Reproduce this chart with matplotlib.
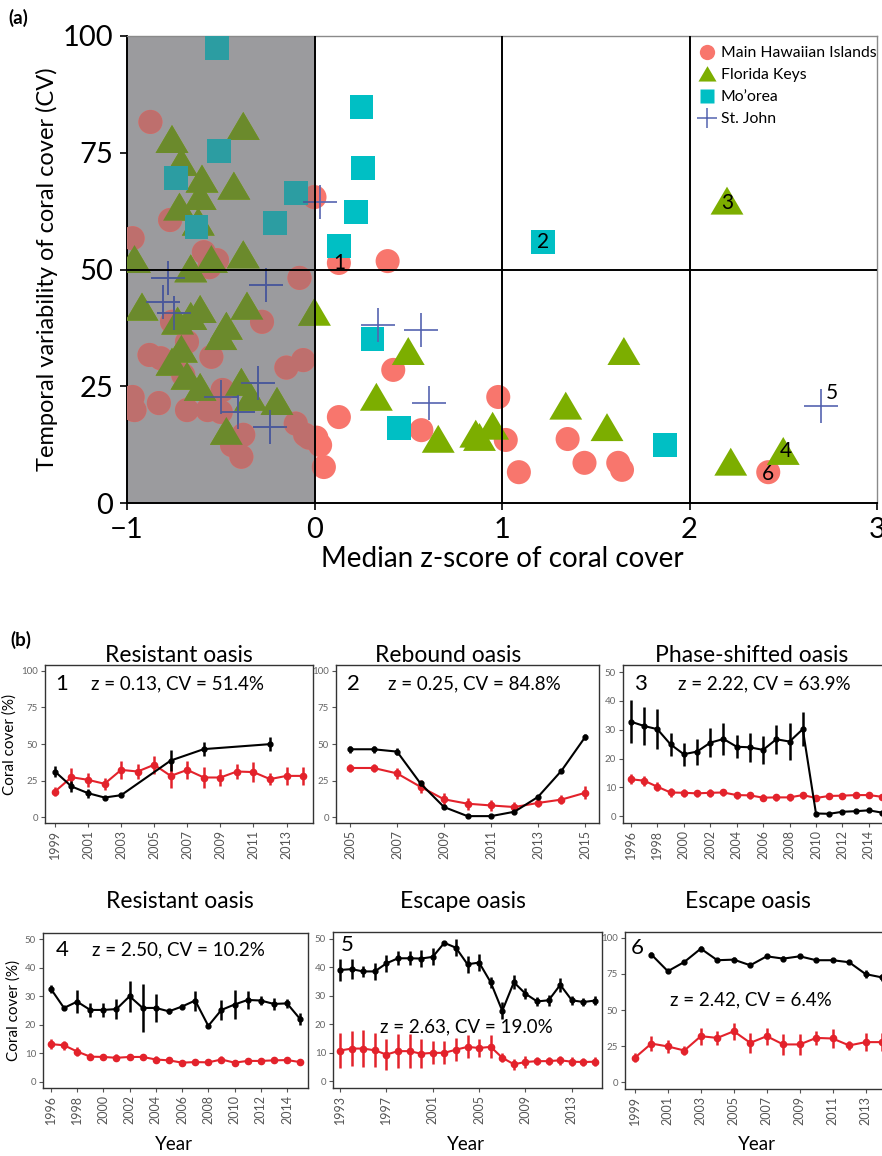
import matplotlib
matplotlib.use("Agg")
import matplotlib.pyplot as plt
from matplotlib.lines import Line2D
from matplotlib.patches import Rectangle
import numpy as np

plt.rcParams['font.family'] = ['Lato', 'DejaVu Sans']

# ---------------- Panel (a) data ----------------
hawaii_x = [-0.875, -0.77, -0.97, -0.59, -0.52, 0.0, -0.56, -0.08, -0.28, -0.76, -0.68, -0.88, -0.82,
            -0.55, -0.15, -0.06, -0.70, -0.49, -0.97, -0.96, -0.83, -0.68, -0.57, -0.50, -0.38, -0.44,
            -0.39, -0.10, -0.05, 0.01, -0.03, 0.03, 0.05, 0.13, 0.39, 0.42, 0.98, 0.13, 0.57, 1.02,
            1.09, 1.35, 1.44, 1.62, 1.64, 2.42]
hawaii_y = [81.6, 60.6, 56.7, 53.7, 52.0, 65.5, 50.5, 48.2, 38.8, 38.8, 34.5, 31.7, 31.0,
            31.3, 29.0, 30.6, 27.4, 24.2, 22.7, 19.9, 21.4, 19.9, 19.9, 19.5, 14.6, 12.4,
            9.9, 17.0, 14.6, 14.0, 14.0, 12.4, 7.7, 51.4, 51.8, 28.5, 22.7, 18.4, 15.6, 13.5,
            6.6, 13.7, 8.6, 8.6, 7.1, 6.6]

florida_x = [-0.38, -0.76, -0.71, -0.60, -0.43, -0.61, -0.72, -0.62, -0.96, -0.55, -0.38, -0.66,
             -0.92, -0.73, -0.61, -0.66, -0.36, 0.0, -0.47, -0.50, -0.71, -0.76, -0.68, -0.61,
             -0.39, -0.34, -0.20, -0.47, 0.50, 0.33, 0.66, 0.86, 0.88, 0.95, 1.34, 1.65, 1.56,
             2.22, 2.50, 2.20]
florida_y = [80.5, 77.7, 72.8, 69.2, 67.7, 65.5, 63.2, 60.0, 52.0, 52.0, 53.0, 50.0,
             41.8, 38.8, 41.3, 39.8, 42.0, 40.7, 37.7, 35.5, 32.8, 30.0, 27.0, 24.6,
             25.7, 22.5, 21.6, 15.2, 32.3, 22.5, 13.5, 14.6, 13.9, 16.3, 20.6, 32.3, 16.0,
             8.6, 10.9, 64.5]

moorea_x = [-0.52, -0.51, -0.74, -0.10, -0.63, -0.21, 0.25, 0.26, 0.22, 0.13, 1.22, 0.31, 0.45, 1.87]
moorea_y = [97.5, 75.4, 69.6, 66.4, 59.1, 60.0, 84.8, 71.7, 62.3, 55.0, 55.9, 35.1, 16.0, 12.4]

stjohn_x = [0.03, -0.78, -0.26, -0.81, -0.75, -0.30, -0.50, -0.41, -0.24, 0.34, 0.57, 0.61, 2.70]
stjohn_y = [64.5, 48.2, 46.7, 43.0, 40.7, 25.7, 22.7, 19.5, 16.3, 38.1, 37.0, 21.4, 20.8]

group_names = ["Main Hawaiian Islands", "Florida Keys", "Mo\u2019orea", "St. John"]

# labelled oases: (label, x, y) taken from the points above
oasis_labels = ["1", "2", "3", "4", "5", "6"]
oasis_x = [0.13, 1.22, 2.20, 2.50, 2.70, 2.42]
oasis_y = [51.4, 55.9, 64.5, 10.9, 20.8, 6.6]

# ---------------- Panel (b) data ----------------
p1_black_years = [1999, 2000, 2001, 2002, 2003, 2006, 2008, 2012]
p1_black = [31.2, 21.0, 16.4, 13.4, 15.0, 38.7, 46.5, 49.9]
p1_black_err = [4, 4, 3, 1.2, 1.5, 7, 5, 5]
p1_red_years = list(range(1999, 2015))
p1_red = [17.5, 27.3, 25.5, 22.8, 32.3, 31.2, 35.8, 28.2, 32.3, 27.1, 27.1, 31.2, 30.8, 26.0, 28.2, 28.2]
p1_red_err = [3, 6, 5, 4, 6, 5, 6, 8, 6, 7, 6, 5, 7, 4, 6, 6]

p2_years = list(range(2005, 2016))
p2_black = [46.4, 46.4, 44.8, 23.0, 6.9, 0.7, 0.7, 3.7, 13.8, 31.7, 54.5]
p2_black_err = [2.5, 2.5, 2.5, 2, 1.5, 0.5, 0.5, 1, 1.5, 1.5, 2]
p2_red = [33.6, 33.6, 29.9, 20.7, 12.2, 9.2, 8.0, 6.9, 9.7, 12.0, 16.6]
p2_red_err = [3, 3, 3.5, 4.5, 4, 4, 4, 3.5, 3, 3, 4.5]

p3_years = list(range(1996, 2016))
p3_black = [32.8, 31.3, 30.2, 24.9, 21.5, 22.4, 25.5, 26.8, 24.1, 23.9, 23.0, 26.7, 25.9, 30.2,
            0.9, 0.8, 1.5, 1.7, 2.0, 1.2]
p3_black_err = [7.5, 6.5, 7, 4, 4, 4.5, 5, 5.5, 4, 5, 5, 5, 6.5, 6, 0.3, 0.3, 0.3, 0.3, 0.3, 0.3]
p3_red = [12.8, 12.3, 10.2, 8.2, 8.1, 7.9, 8.1, 8.2, 7.3, 7.2, 6.4, 6.5, 6.5, 7.3, 6.3, 7.0, 7.1,
          7.3, 7.3, 6.7]
p3_red_err = [1.8, 1.8, 1.6, 1.5, 1.4, 1.3, 1.3, 1.3, 1.2, 1.2, 1.2, 1.2, 1.2, 1.2, 1.0, 1.0, 1.0,
              1.0, 1.0, 1.0]

p4_years = list(range(1996, 2016))
p4_black = [32.6, 25.9, 28.1, 25.2, 25.2, 25.5, 30.0, 25.9, 25.9, 24.7, 26.4, 28.5, 19.6, 25.2,
            27.1, 28.7, 28.5, 27.3, 27.5, 22.0]
p4_black_err = [1.5, 0.5, 4, 2.5, 2.5, 3.5, 5.5, 8.5, 5, 0.8, 0.8, 3.5, 0.8, 3.5, 5, 3, 1.5, 2,
                1.5, 2]
p4_red = [13.2, 12.8, 10.6, 8.8, 8.7, 8.4, 8.7, 8.7, 7.8, 7.5, 6.7, 6.9, 6.8, 7.8, 6.7, 7.3, 7.3,
          7.5, 7.6, 6.9]
p4_red_err = [1.8, 1.6, 1.5, 1.3, 1.2, 1.2, 1.2, 1.2, 1.1, 1.1, 1.0, 1.0, 1.0, 1.1, 1.0, 1.0, 1.0,
              1.0, 1.0, 1.0]

p5_years = list(range(1993, 2016))
p5_black = [39.0, 39.3, 38.5, 38.5, 41.3, 43.1, 43.1, 43.0, 43.6, 48.5, 46.8, 41.0, 41.6, 34.7,
            24.7, 34.7, 30.7, 28.0, 28.4, 33.8, 28.4, 27.8, 28.3]
p5_black_err = [4, 3.5, 2, 3, 3, 2.5, 2.5, 3, 3, 0.8, 3, 3, 3, 2, 3, 2.5, 2, 1.5, 2, 2.5, 1.5,
                1.5, 1.5]
p5_red = [10.8, 11.5, 11.5, 10.9, 9.4, 10.6, 10.6, 9.7, 10.0, 10.0, 11.1, 12.1, 11.7, 12.1, 8.3,
          6.0, 6.8, 7.1, 7.1, 7.4, 6.9, 6.8, 6.9]
p5_red_err = [6, 6, 6.5, 6, 5.5, 6, 6, 5, 4, 4, 4, 4, 3, 4, 1.5, 2, 2, 1.5, 1.5, 1.5, 1.5, 1.5, 1.5]

p6_black_years = list(range(2000, 2015))
p6_black = [88.4, 76.9, 83.3, 92.5, 84.5, 84.9, 81.0, 87.2, 85.6, 87.2, 84.5, 84.5, 83.1, 74.9, 72.6]
p6_black_err = [1.5, 1.5, 1.5, 1.5, 1.5, 1.5, 1.5, 1.5, 1.5, 1.5, 1.5, 1.5, 1.5, 2.5, 2.5]
p6_red_years = list(range(1999, 2015))
p6_red = [17.1, 26.9, 24.9, 22.1, 32.0, 30.8, 35.4, 27.4, 32.0, 26.3, 26.3, 30.8, 30.4, 25.6, 27.9, 27.9]
p6_red_err = [3, 5, 4.5, 3, 6, 5, 6, 7, 6, 7, 7, 5, 6.5, 3, 6, 6]

panel_titles = ["Resistant oasis", "Rebound oasis", "Phase-shifted oasis",
                "Resistant oasis", "Escape oasis", "Escape oasis"]
panel_stats = ["z = 0.13, CV = 51.4%", "z = 0.25, CV = 84.8%", "z = 2.22, CV = 63.9%",
               "z = 2.50, CV = 10.2%", "z = 2.63, CV = 19.0%", "z = 2.42, CV = 6.4%"]

# ---------------- Figure ----------------
W, H = 882, 1156
fig = plt.figure(figsize=(W / 100, H / 100), dpi=100)


def rect(l, t, r, b):
    return [l / W, 1 - b / H, (r - l) / W, (b - t) / H]


# ---- panel (a)
ax = fig.add_axes(rect(127, 36, 877, 503))
ax.set_xlim(-1, 3)
ax.set_ylim(0, 100)
gray_rect = Rectangle((-1, 0), 1, 100, facecolor='#9b9b9e', edgecolor='none', zorder=1)
ax.add_patch(gray_rect)

normal_cols = ['#F8766D', '#7CAE00', '#00BFC4', '#5564B0']
muted_cols = ['#BE6F6D', '#6B8A2C', '#2C9DA2', '#4A5898']
xs = [hawaii_x, florida_x, moorea_x, stjohn_x]
ys = [hawaii_y, florida_y, moorea_y, stjohn_y]
tri = [(-1, -0.78), (1, -0.78), (0, 0.92)]
markers = ['o', tri, 's', '+']
sizes = [300, 560, 290, 620]
lws = [0, 0, 0, 1.2]

for cols, clip in ((normal_cols, False), (muted_cols, True)):
    for i in range(4):
        if markers[i] == '+':
            sc = ax.scatter(xs[i], ys[i], marker='+', s=sizes[i], c=cols[i], linewidths=lws[i], zorder=3)
        else:
            sc = ax.scatter(xs[i], ys[i], marker=markers[i], s=sizes[i], c=cols[i],
                            edgecolors='none', zorder=3)
        if clip:
            clip_rect = Rectangle((-1, 0), 1, 100, transform=ax.transData)
            sc.set_clip_path(clip_rect)

for xv in (0, 1, 2):
    ax.axvline(xv, color='black', lw=1.4, zorder=4)
ax.axhline(50, color='black', lw=1.4, zorder=4)

label_offsets = [(0, 0), (0, 0), (0, -1), (2, 1), (8, 9), (0, -1)]
for lab, lx, ly, off in zip(oasis_labels, oasis_x, oasis_y, label_offsets):
    ax.annotate(lab, (lx, ly), xytext=off, textcoords='offset points', ha='center', va='center',
                fontsize=15, color='black', zorder=5)

ax.set_xticks([-1, 0, 1, 2, 3])
ax.set_xticklabels(['\u22121', '0', '1', '2', '3'])
ax.set_yticks([0, 25, 50, 75, 100])
ax.tick_params(labelsize=21, length=5, width=1.2, direction='out', pad=5)
for s in ('left', 'bottom'):
    ax.spines[s].set_linewidth(1.4)
    ax.spines[s].set_color('black')
for s in ('top', 'right'):
    ax.spines[s].set_linewidth(1.0)
    ax.spines[s].set_color('#8a8a8a')
ax.set_xlabel("Median z-score of coral cover", fontsize=20, labelpad=2)
ax.set_ylabel("Temporal variability of coral cover (CV)", fontsize=17, labelpad=3)

handles = [Line2D([], [], ls='none', marker='o', ms=11, mfc=normal_cols[0], mec='none'),
           Line2D([], [], ls='none', marker=tri, ms=13, mfc=normal_cols[1], mec='none'),
           Line2D([], [], ls='none', marker='s', ms=9.5, mfc=normal_cols[2], mec='none'),
           Line2D([], [], ls='none', marker='+', ms=14, mew=1.1, color=normal_cols[3])]
leg = ax.legend(handles, group_names, loc='upper left', bbox_to_anchor=(699 / W, 1 - 46 / H),
                bbox_transform=fig.transFigure, frameon=False, fontsize=11.3, handlelength=1.0,
                handletextpad=0.4, labelspacing=0.52, borderpad=0, borderaxespad=0)
leg.set_zorder(6)

fig.text(8 / W, 1 - 18 / H, "(a)", fontsize=13.5, fontweight='bold', va='center', ha='left')
fig.text(10 / W, 1 - 640 / H, "(b)", fontsize=13.5, fontweight='bold', va='center', ha='left')

# ---- panel (b)
red = '#E3222B'
panel_rects = [(45, 665, 313, 823), (336, 665, 599, 823), (623, 665, 890, 823),
               (43, 933, 308, 1088), (333, 932, 602, 1088), (625, 932, 892, 1089)]
series = [
    (p1_black_years, p1_black, p1_black_err, p1_red_years, p1_red, p1_red_err),
    (p2_years, p2_black, p2_black_err, p2_years, p2_red, p2_red_err),
    (p3_years, p3_black, p3_black_err, p3_years, p3_red, p3_red_err),
    (p4_years, p4_black, p4_black_err, p4_years, p4_red, p4_red_err),
    (p5_years, p5_black, p5_black_err, p5_years, p5_red, p5_red_err),
    (p6_black_years, p6_black, p6_black_err, p6_red_years, p6_red, p6_red_err),
]
xticks_list = [range(1999, 2014, 2), range(2005, 2016, 2), range(1996, 2015, 2),
               range(1996, 2015, 2), range(1993, 2014, 4), range(1999, 2014, 2)]
ylims = [(-4, 104), (-4, 104), (-2.4, 52.5), (-2.2, 52.2), (-2.3, 52.3), (-4.5, 104)]
yticks_list = [[0, 25, 50, 75, 100], [0, 25, 50, 75, 100], [0, 10, 20, 30, 40, 50],
               [0, 10, 20, 30, 40, 50], [0, 10, 20, 30, 40, 50], [0, 25, 50, 75, 100]]
num_pos = [(0.063, 0.88), (0.065, 0.88), (0.064, 0.88), (0.072, 0.89), (0.052, 0.915), (0.045, 0.90)]
stat_pos = [(0.496, 0.88), (0.525, 0.88), (0.528, 0.88), (0.51, 0.89), (0.494, 0.39), (0.47, 0.567)]
title_x = [179, 448, 752, 180, 463, 748]
title_y = [655, 655, 655, 902, 902, 902]

for k in range(6):
    l, t, r, b = panel_rects[k]
    a = fig.add_axes(rect(l, t, r, b))
    bx, by, be, rx, ry, re_ = series[k]
    allx = list(bx) + list(rx)
    a.set_xlim(min(allx) - 0.6, max(allx) + 0.6)
    a.set_ylim(*ylims[k])
    a.errorbar(rx, ry, yerr=re_, fmt='-o', color=red, lw=1.5, elinewidth=1.8, ms=4.5,
               capsize=0, zorder=3)
    a.errorbar(bx, by, yerr=be, fmt='-o', color='black', lw=1.5, elinewidth=1.8, ms=3.5,
               capsize=0, zorder=4)
    a.set_xticks(list(xticks_list[k]))
    a.set_xticklabels([str(v) for v in xticks_list[k]], rotation=90)
    a.set_yticks(yticks_list[k])
    a.tick_params(axis='x', labelsize=9, labelcolor='#555555', color='#555555', length=3, pad=2)
    a.tick_params(axis='y', labelsize=7, labelcolor='#666666', color='#555555', length=3, pad=2)
    for s in a.spines.values():
        s.set_color('#333333')
        s.set_linewidth(1.0)
    a.text(num_pos[k][0], num_pos[k][1], oasis_labels[k], transform=a.transAxes, fontsize=16,
           ha='center', va='center')
    a.text(stat_pos[k][0], stat_pos[k][1], panel_stats[k], transform=a.transAxes, fontsize=13.5,
           ha='center', va='center')
    fig.text(title_x[k] / W, 1 - title_y[k] / H, panel_titles[k], fontsize=16.5, ha='center',
             va='center')
    if k in (0, 3):
        a.set_ylabel("Coral cover (%)", fontsize=11, labelpad=3)
    if k >= 3:
        fig.text(((l + r) / 2 - 2) / W, 1 - 1145 / H, "Year", fontsize=13.5, ha='center', va='center')

fig.savefig("out.png", dpi=100)
